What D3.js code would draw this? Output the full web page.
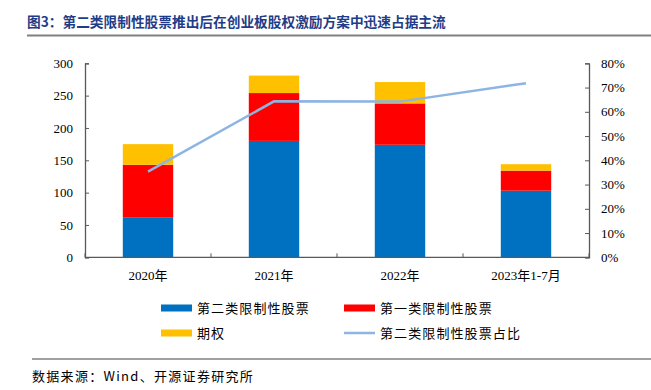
<!DOCTYPE html>
<html><head><meta charset="utf-8">
<script src="https://cdn.jsdelivr.net/npm/d3@7"></script>
<style>body{margin:0;background:#fff;} svg{display:block;}</style>
</head><body>
<script>
const categories = ["2020年", "2021年", "2022年", "2023年1-7月"];
const type2 = [62, 180, 174, 103];
const type1 = [81, 74, 64, 31];
const options = [32, 27, 33, 10];
const type2Share = [0.353, 0.643, 0.642, 0.718];
const leftTicks = [0, 50, 100, 150, 200, 250, 300];
const rightTicks = [0, 0.1, 0.2, 0.3, 0.4, 0.5, 0.6, 0.7, 0.8];
const seriesNames = ["第二类限制性股票", "第一类限制性股票", "期权", "第二类限制性股票占比"];

(function () {
const W = 651, H = 390;
const colors = ["#0070C0", "#FF0000", "#FFC000"];
const lineColor = "#8DB4E2";
const axisColor = "#595959";
const serif = "'Liberation Serif','Noto Sans CJK SC',serif";
const cjk = "'Noto Sans CJK SC','Liberation Serif',serif";

const svg = d3.select("body").append("svg").attr("width", W).attr("height", H);

// Title
svg.append("text").attr("x", 27).attr("y", 27).attr("font-family", cjk)
  .attr("font-size", 13.7).attr("font-weight", "bold").attr("fill", "#1F3C88")
  .text("图3：第二类限制性股票推出后在创业板股权激励方案中迅速占据主流");
svg.append("line").attr("x1", 27).attr("x2", W).attr("y1", 35.5).attr("y2", 35.5)
  .attr("stroke", "#808080").attr("stroke-width", 2);

const pL = 85, pR = 589, pT = 63.3, pB = 257.3;
const x = d3.scaleBand().domain(categories).range([pL, pR]).paddingInner(0.6).paddingOuter(0.3);
const y = d3.scaleLinear().domain([0, 300]).range([pB, pT]);
const y2 = d3.scaleLinear().domain([0, 0.8]).range([pB, pT]);

// stacked bars
const rows = categories.map((c, i) => ({cat: c, a: type2[i], b: type1[i], c: options[i]}));
const stack = d3.stack().keys(["a", "b", "c"])(rows);
stack.forEach((layer, li) => {
  svg.append("g").selectAll("rect").data(layer).join("rect")
    .attr("x", d => x(d.data.cat)).attr("width", x.bandwidth())
    .attr("y", d => y(d[1])).attr("height", d => y(d[0]) - y(d[1]))
    .attr("fill", colors[li]);
});

// line
const line = d3.line().x((d, i) => x(categories[i]) + x.bandwidth() / 2).y(d => y2(d));
svg.append("path").datum(type2Share).attr("d", line).attr("fill", "none")
  .attr("stroke", lineColor).attr("stroke-width", 2.5);

// axes
const gl = svg.append("g").attr("transform", `translate(${pL},0)`)
  .call(d3.axisLeft(y).tickValues(leftTicks).tickSize(-4).tickPadding(12));
const gr = svg.append("g").attr("transform", `translate(${pR},0)`)
  .call(d3.axisRight(y2).tickValues(rightTicks).tickSize(-4).tickPadding(12).tickFormat(d3.format(".0%")));
[gl, gr].forEach(g => {
  g.select(".domain").attr("stroke", axisColor).attr("stroke-width", 1.3);
  g.selectAll(".tick line").attr("stroke", axisColor);
  g.selectAll("text").attr("font-family", serif).attr("font-size", 13).attr("fill", "#000");
});
// x axis
const gx = svg.append("g");
gx.append("line").attr("x1", pL).attr("x2", pR).attr("y1", pB).attr("y2", pB)
  .attr("stroke", axisColor).attr("stroke-width", 1.3);
const step = x.step();
d3.range(categories.length + 1).forEach(i => {
  const xx = pL + step * i;
  gx.append("line").attr("x1", xx).attr("x2", xx).attr("y1", pB).attr("y2", pB - 4)
    .attr("stroke", axisColor);
});
gx.selectAll("text").data(categories).join("text")
  .attr("x", d => x(d) + x.bandwidth() / 2).attr("y", pB + 23)
  .attr("text-anchor", "middle").attr("font-family", serif).attr("font-size", 13).attr("fill", "#000")
  .text(d => d);

// legend
const leg = [
  {name: seriesNames[0], type: "rect", color: colors[0], x: 161, y: 308},
  {name: seriesNames[1], type: "rect", color: colors[1], x: 344, y: 308},
  {name: seriesNames[2], type: "rect", color: colors[2], x: 161, y: 333},
  {name: seriesNames[3], type: "line", color: lineColor, x: 344, y: 333},
];
const lg = svg.append("g");
leg.forEach(l => {
  if (l.type === "rect") {
    lg.append("rect").attr("x", l.x).attr("y", l.y - 3.5).attr("width", 31).attr("height", 7).attr("fill", l.color);
  } else {
    lg.append("line").attr("x1", l.x).attr("x2", l.x + 31).attr("y1", l.y).attr("y2", l.y)
      .attr("stroke", l.color).attr("stroke-width", 2.5);
  }
  lg.append("text").attr("x", l.x + 36).attr("y", l.y + 5).attr("font-family", cjk)
    .attr("font-size", 13).attr("letter-spacing", 1.1).attr("fill", "#000").text(l.name);
});

// footer
svg.append("line").attr("x1", 32).attr("x2", W).attr("y1", 359).attr("y2", 359)
  .attr("stroke", "#808080").attr("stroke-width", 1.5);
svg.append("text").attr("x", 32).attr("y", 381).attr("font-family", cjk)
  .attr("font-size", 13).attr("letter-spacing", 1.3).attr("fill", "#000").text("数据来源：Wind、开源证券研究所");
})();
</script>
</body></html>
